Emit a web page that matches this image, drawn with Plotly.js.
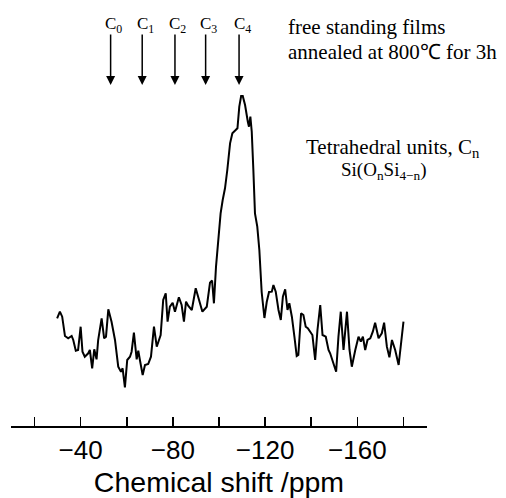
<!DOCTYPE html>
<html>
<head>
<meta charset="utf-8">
<script src="https://cdn.plot.ly/plotly-3.0.1.min.js"></script>
<style>
  html, body { margin: 0; padding: 0; background: #fff; }
  #chart { width: 506px; height: 498px; }
</style>
</head>
<body>
<div id="chart"></div>
<script>
// Chemical shift (ppm) and NMR intensity (arbitrary units)
const shiftPpm = [
  -29.8, -31.0, -32.0, -33.2, -34.6, -36.1, -36.8, -37.9, -38.9, -40.0,
  -40.8, -41.8, -43.3, -44.0, -45.0, -45.9, -46.9, -47.6, -49.1, -50.2,
  -51.0, -52.0, -53.4, -54.9, -56.3, -57.5, -58.2, -59.2, -60.2, -61.4,
  -62.1, -63.1, -64.3, -65.0, -65.7, -66.9, -67.9, -69.3, -70.5, -71.8,
  -73.0, -74.7, -75.8, -76.9, -77.7, -78.7, -79.9, -80.9, -82.6, -83.8,
  -84.8, -85.7, -86.7, -88.2, -89.9, -91.0, -92.8, -94.7, -96.1, -97.0,
  -97.8, -98.7, -99.7, -100.7, -101.6, -102.6, -103.6, -104.8, -105.8, -107.0,
  -108.0, -108.8, -109.6, -110.3, -111.3, -112.5, -113.0, -113.6, -114.2, -114.9,
  -115.6, -116.6, -117.5, -118.5, -119.7, -120.7, -121.7, -122.9, -123.6, -124.6,
  -125.8, -126.8, -127.7, -128.7, -129.7, -130.5, -131.6, -132.7, -133.7, -134.4,
  -135.6, -136.6, -137.6, -138.5, -139.5, -140.5, -141.7, -142.7, -143.9, -144.9,
  -146.3, -147.5, -148.2, -149.6, -150.8, -151.8, -152.8, -154.0, -155.5, -156.6,
  -157.6, -159.1, -160.5, -161.5, -162.4, -163.4, -164.4, -165.6, -166.7, -167.7,
  -169.2, -170.6, -171.6, -172.8, -173.9, -175.0, -176.4, -177.9, -178.9, -180.0
];
const intensity = [
  107.7, 114.3, 109.3, 90.0, 87.7, 90.0, 86.0, 75.3, 76.0, 99.3,
  74.3, 69.3, 72.7, 76.0, 57.7, 76.7, 66.7, 86.0, 107.7, 87.7,
  89.3, 116.7, 104.3, 86.0, 59.3, 54.3, 57.7, 38.7, 66.0, 69.3,
  74.3, 93.3, 66.7, 75.3, 66.0, 51.0, 61.0, 62.0, 69.3, 99.3,
  79.3, 91.0, 126.0, 132.7, 104.3, 119.3, 123.3, 114.3, 128.7, 121.0,
  104.3, 124.3, 120.0, 116.0, 137.7, 127.7, 114.3, 119.3, 143.3, 145.5,
  122.7, 159.3, 186.0, 212.7, 226.0, 237.7, 256.0, 282.7, 292.7, 295.0,
  297.7, 319.3, 330.0, 330.0, 321.0, 304.3, 299.3, 309.3, 294.3, 256.0,
  212.7, 199.3, 176.0, 134.0, 108.0, 124.0, 134.0, 134.3, 141.0, 134.3,
  116.0, 106.0, 129.3, 136.7, 116.0, 122.7, 109.3, 89.3, 70.0, 71.0,
  112.7, 111.0, 99.3, 97.7, 94.3, 91.0, 66.0, 96.0, 121.0, 91.0,
  89.3, 76.0, 72.7, 62.7, 54.3, 89.3, 114.3, 76.0, 114.3, 76.0,
  59.3, 76.0, 89.3, 84.3, 89.3, 76.0, 86.0, 87.7, 94.3, 103.3,
  87.7, 92.7, 103.3, 79.3, 68.7, 86.0, 76.0, 61.0, 79.3, 104.3
];
// Tick marks and labels
const tickValues = [-20, -40, -60, -80, -100, -120, -140, -160, -180];
const tickLabels = ['', '\u221240', '', '\u221280', '', '\u2212120', '', '\u2212160', ''];
// Tetrahedral unit positions marked by arrows
const unitLabels = ['C<sub>0</sub>', 'C<sub>1</sub>', 'C<sub>2</sub>', 'C<sub>3</sub>', 'C<sub>4</sub>'];
const unitShifts = [-53.0, -66.7, -80.9, -94.2, -108.7];
// Text notes
const noteLines = ['free standing films', 'annealed at 800\u2103 for 3h'];

const serif = "Liberation Serif, Times New Roman, serif";
const sans = "Liberation Sans, Arial, sans-serif";

const annotations = [];
unitShifts.forEach((s, i) => {
  annotations.push({
    x: s, y: 341, xref: 'x', yref: 'y',
    ax: s, ay: 393, axref: 'x', ayref: 'y',
    showarrow: true, arrowhead: 2, arrowsize: 1.2, arrowwidth: 1.5,
    arrowcolor: '#000', text: ''
  });
  annotations.push({
    x: s, y: 403, xref: 'x', yref: 'y', text: unitLabels[i],
    showarrow: false, xanchor: 'center', yanchor: 'middle', xshift: 3, yshift: -2,
    font: {family: serif, size: 17, color: '#000'}
  });
});
const notePy = [27, 52];
noteLines.forEach((t, i) => {
  annotations.push({
    x: (286 - 11) / 416, y: (426 - notePy[i]) / 416, xref: 'paper', yref: 'paper',
    text: t, showarrow: false, xanchor: 'left', yanchor: 'middle', align: 'left',
    font: {family: serif, size: 21, color: '#000'}
  });
});
annotations.push({
  x: (304 - 11) / 416, y: (426 - 148) / 416, xref: 'paper', yref: 'paper',
  text: 'Tetrahedral units, C<sub>n</sub>',
  showarrow: false, xanchor: 'left', yanchor: 'middle',
  font: {family: serif, size: 21, color: '#000'}
});
annotations.push({
  x: (339 - 11) / 416, y: (426 - 171) / 416, xref: 'paper', yref: 'paper',
  text: 'Si(O<sub>n</sub>Si<sub>4\u2212n</sub>)',
  showarrow: false, xanchor: 'left', yanchor: 'middle',
  font: {family: serif, size: 19, color: '#000'}
});

const trace = {
  x: shiftPpm, y: intensity, type: 'scatter', mode: 'lines',
  line: {color: '#000', width: 2}, hoverinfo: 'skip'
};

const layout = {
  width: 506, height: 498,
  margin: {l: 11, r: 79, t: 10, b: 72},
  paper_bgcolor: '#fff', plot_bgcolor: '#fff',
  showlegend: false,
  xaxis: {
    range: [-9.8, -190.2],
    tickmode: 'array', tickvals: tickValues, ticktext: tickLabels,
    ticks: 'inside', ticklen: 9, tickwidth: 1.5, tickcolor: '#000',
    showline: true, linecolor: '#000', linewidth: 1.5,
    showgrid: false, zeroline: false,
    tickfont: {family: sans, size: 26, color: '#000'},
    title: {text: 'Chemical shift /ppm', font: {family: sans, size: 28.5, color: '#000'}, standoff: 8}
  },
  yaxis: {
    range: [0, 416], visible: false, showgrid: false, zeroline: false
  },
  annotations: annotations
};

Plotly.newPlot('chart', [trace], layout, {staticPlot: true, displayModeBar: false});
</script>
</body>
</html>
